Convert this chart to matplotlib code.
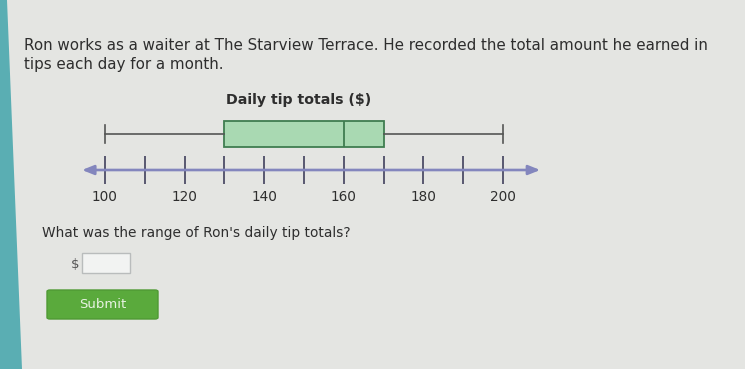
import matplotlib
matplotlib.use("Agg")
import matplotlib.pyplot as plt
from matplotlib.patches import Polygon, Rectangle, FancyBboxPatch

# box plot summary (dollars)
tipMin = 100
tipQ1 = 130
tipMedian = 160
tipQ3 = 170
tipMax = 200

majorTicks = [100, 120, 140, 160, 180, 200]
minorTicks = [110, 130, 150, 170, 190]

W, H = 745, 369
bg = "#e4e5e2"


def fx(x):
    return x / W


def fy(y):
    return 1 - y / H


fig = plt.figure(figsize=(W / 100, H / 100), dpi=100)
fig.patch.set_facecolor(bg)

# teal strip on the left edge of the screen
fig.patches.append(Polygon([(0, 1), (fx(7), 1), (fx(22), 0), (0, 0)],
                           closed=True, transform=fig.transFigure,
                           facecolor="#5aaeb3", edgecolor="none"))

textColor = "#2e2e2e"
fig.text(fx(24), fy(45), "Ron works as a waiter at The Starview Terrace. He recorded the total amount he earned in",
         fontsize=10.9, color=textColor, va="center", ha="left")
fig.text(fx(24), fy(64), "tips each day for a month.",
         fontsize=10.9, color=textColor, va="center", ha="left")
fig.text(fx(299), fy(100), "Daily tip totals ($)", fontsize=10.2, fontweight="bold",
         color=textColor, va="center", ha="center")

# box plot axes, x in dollars, y in pixel-like layout units
ax = fig.add_axes([fx(80), fy(215), fx(545) - fx(80), (215 - 110) / H])
ax.set_facecolor("none")
xLeft = 100 + (80 - 105) / 3.98
xRight = 100 + (545 - 105) / 3.98
ax.set_xlim(xLeft, xRight)
ax.set_ylim(0, 105)

boxY = 81
axisY = 45

stats = [{"whislo": tipMin, "q1": tipQ1, "med": tipMedian, "q3": tipQ3, "whishi": tipMax}]
ax.bxp(stats, positions=[boxY], widths=26, orientation="horizontal", showfliers=False,
       patch_artist=True, capwidths=17,
       boxprops=dict(facecolor="#a9d9b2", edgecolor="#3f7d50", linewidth=1.3),
       medianprops=dict(color="#3f7d50", linewidth=1.3),
       whiskerprops=dict(color="#555555", linewidth=1.2),
       capprops=dict(color="#555555", linewidth=1.2))

# number line with arrows at both ends
ax.annotate("", xy=(xRight - 1.2, axisY), xytext=(xLeft + 0.5, axisY),
            arrowprops=dict(arrowstyle="<|-|>,head_length=0.7,head_width=0.28",
                            color="#8386bd", lw=1.9, shrinkA=0, shrinkB=0))

for s in ["top", "right", "left"]:
    ax.spines[s].set_visible(False)
ax.spines["bottom"].set_position(("data", axisY))
ax.spines["bottom"].set_visible(False)
ax.set_yticks([])
ax.set_xticks(majorTicks)
ax.set_xticks(minorTicks, minor=True)
ax.set_xticklabels([str(t) for t in majorTicks])
ax.tick_params(axis="x", which="both", direction="inout", length=19.5, width=1.3,
               color="#4d4d66", pad=5, labelsize=9.8, labelcolor=textColor)

fig.text(fx(42), fy(233), "What was the range of Ron's daily tip totals?",
         fontsize=9.9, color=textColor, va="center", ha="left")
fig.text(fx(75), fy(264), "$", fontsize=9.5, color="#555555", va="center", ha="center")
fig.patches.append(Rectangle((fx(82), fy(273)), fx(48), 20 / H, transform=fig.transFigure,
                             facecolor="#f2f3f2", edgecolor="#b9bcbc", linewidth=1))
fig.patches.append(FancyBboxPatch((fx(47), fy(319)), fx(111), 29 / H,
                                  boxstyle="round,pad=0,rounding_size=0.004",
                                  transform=fig.transFigure,
                                  facecolor="#5aaa3c", edgecolor="#4f9a34", linewidth=1))
fig.text(fx(103), fy(304), "Submit", fontsize=9.5, color="#e8f3e2", va="center", ha="center")

fig.savefig("out.png", dpi=100, facecolor=bg)
